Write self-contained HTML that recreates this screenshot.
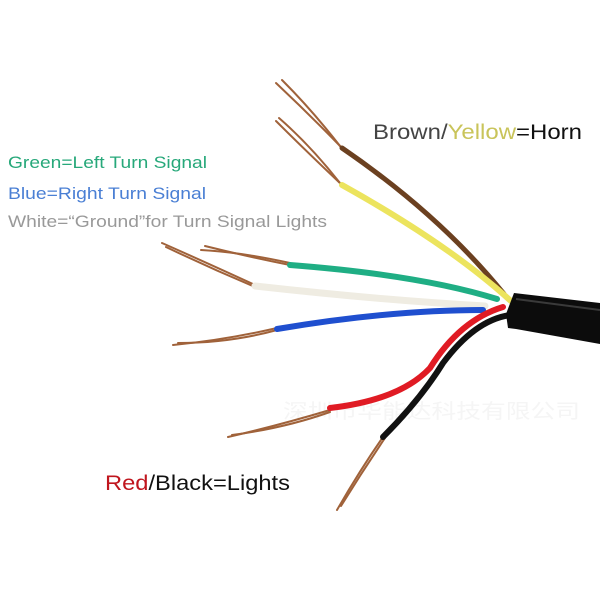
<!DOCTYPE html>
<html><head><meta charset="utf-8"><style>
html,body{margin:0;padding:0;background:#fff;width:600px;height:600px;overflow:hidden}
svg{display:block}
text{font-family:"Liberation Sans","Noto Sans CJK SC",sans-serif}
</style></head><body>
<svg width="600" height="600" viewBox="0 0 600 600" xmlns="http://www.w3.org/2000/svg">
<rect width="600" height="600" fill="#fff"/>
<text x="283" y="418" font-size="20" fill="#f5f5f5" textLength="297" lengthAdjust="spacingAndGlyphs" font-family="Noto Sans CJK SC">深圳市华能达科技有限公司</text>
<g fill="none" stroke-linecap="round">
<g stroke="#a0623a" stroke-width="2">
<path d="M342 148 Q310 115 276 83"/><path d="M340 146 Q312 110 282 80"/>
<path d="M342 185 Q305 150 276 121"/><path d="M340 183 Q310 145 279 118"/>
<path d="M290 263 Q240 252 201 250"/><path d="M290 265 Q245 256 205 246"/>
<path d="M255 285 Q205 262 162 243"/><path d="M255 287 Q210 268 166 247"/>
<path d="M277 328 Q225 340 173 345"/><path d="M277 330 Q230 343 178 343"/>
<path d="M330 410 Q280 425 228 437"/><path d="M330 412 Q285 428 232 435"/>
<path d="M383 437 Q360 470 337 510"/><path d="M385 438 Q362 472 341 506"/>
</g>
<path d="M342 148 Q440 215 504 294" stroke="#6b4020" stroke-width="5"/>
<path d="M342 185 Q450 245 512 302" stroke="#ece45e" stroke-width="6"/>
<path d="M290 265 Q420 275 497 299" stroke="#1fae84" stroke-width="6"/>
<path d="M255 286 Q380 300 485 306" stroke="#efece2" stroke-width="7"/>
<path d="M277 329 Q390 310 483 310" stroke="#1f4fcf" stroke-width="6"/>
<path d="M330 408 Q400 400 430 368 Q460 320 503 307" stroke="#e01b24" stroke-width="6"/>
<path d="M383 437 Q420 400 443 363 Q475 320 510 315" stroke="#111" stroke-width="6"/>
</g>
<polygon points="514,293 600,303 600,344 516,329 508,328 506,314" fill="#0c0c0c"/>
<line x1="516" y1="299" x2="600" y2="310" stroke="#3a3a3a" stroke-width="2"/>
<text x="373" y="139" font-size="21" fill="#444" textLength="209" lengthAdjust="spacingAndGlyphs">Brown/<tspan fill="#c9c45a">Yellow</tspan><tspan fill="#111">=Horn</tspan></text>
<text x="8" y="168" font-size="17" fill="#27a87a" textLength="199" lengthAdjust="spacingAndGlyphs">Green=Left Turn Signal</text>
<text x="8" y="199" font-size="17" fill="#4a7fd4" textLength="198" lengthAdjust="spacingAndGlyphs">Blue=Right Turn Signal</text>
<text x="8" y="227" font-size="17" fill="#999" textLength="319" lengthAdjust="spacingAndGlyphs">White=“Ground”for Turn Signal Lights</text>
<text x="105" y="490" font-size="21" fill="#111" textLength="185" lengthAdjust="spacingAndGlyphs"><tspan fill="#c0161e">Red</tspan>/Black=Lights</text>
</svg>
</body></html>
